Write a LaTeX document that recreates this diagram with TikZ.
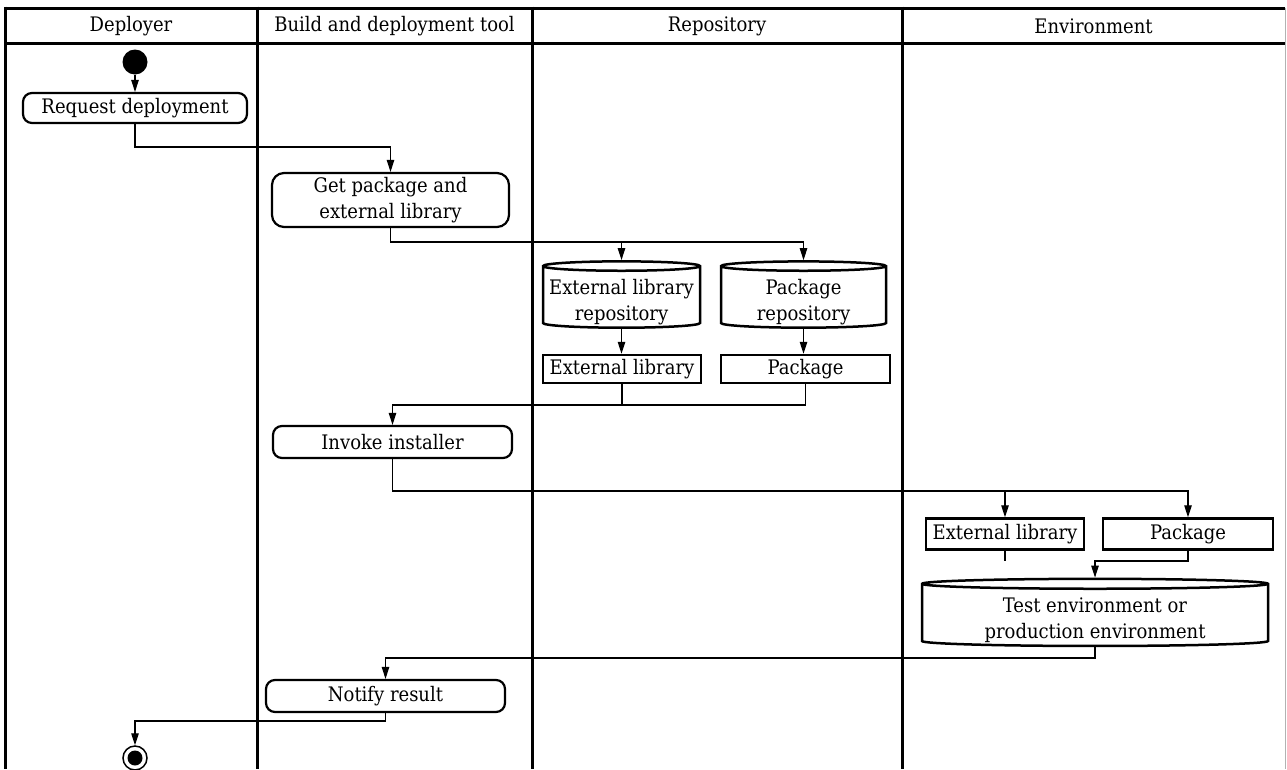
\documentclass[tikz,border=0pt]{standalone}
\usepackage{fontspec}
\setmainfont{DejaVu Serif Condensed}
\usepackage{tikz}
\usetikzlibrary{shapes.geometric,arrows.meta}
\newcommand{\cyltext}[1]{\raisebox{-5pt}[\height][\depth]{\begin{tabular}{@{}c@{}}#1\end{tabular}}}

\begin{document}
\begin{tikzpicture}[x=1pt,y=-1pt,
		every node/.style={font=\fontsize{20}{25.5}\selectfont, inner sep=0pt, align=center},
		lane/.style={line width=3pt},
		action/.style={draw, rounded corners=9pt, line width=2.2pt, minimum height=32pt},
		object/.style={draw, rectangle, line width=2.5pt, minimum height=31pt},
		store/.style={draw, cylinder, shape border rotate=90, aspect=0.1, line width=2.5pt, minimum height=65pt},
		flow/.style={line width=1.1pt, -{Triangle[length=12pt,width=7.5pt]}},
		link/.style={line width=1.1pt}]
		\useasboundingbox (0,0) rectangle (1287,769);
		\fill[white] (0,0) rectangle (1287,769);
		
		\draw[lane] (5,8) -- (1285,8);
		\draw[lane] (5,43) -- (1285,43);
		\draw[lane] (5,6.5) -- (5,769);
		\draw[lane] (257,6.5) -- (257,769);
		\draw[lane] (532,6.5) -- (532,769);
		\draw[lane] (902,6.5) -- (902,769);
		\draw[gray!60, line width=1pt] (1285,8) -- (1285,769);
		
		\node (hDep) at (131,26) {Deployer};
		\node (hTool) at (394.5,26) {Build and deployment tool};
		\node (hRepo) at (717,26) {Repository};
		\node (hEnv) at (1093.5,26) {Environment};
		
		\node[circle, fill, minimum size=25pt] (start) at (135,62) {};
		\node[action, minimum width=224pt, minimum height=30pt] (req) at (135,108) {Request deployment};
		\node[action, rounded corners=12pt, minimum width=237pt, minimum height=54pt] (get) at (390.5,200) {Get package and\\external library};
		\node[store, aspect=0.065, minimum width=157pt] (cyl1) at (621.5,297.5) {\cyltext{External library\\repository}};
		\node[store, minimum width=165pt] (cyl2) at (803.5,297.5) {\cyltext{Package\\repository}};
		\node[object, minimum width=158pt, minimum height=28pt] (el1) at (622,369) {External library};
		\node[object, minimum width=169pt, minimum height=28pt] (pk1) at (805.5,369) {Package};
		\node[action, minimum width=239pt] (inv) at (392.5,442) {Invoke installer};
		\node[object, minimum width=158pt] (el2) at (1005,534) {External library};
		\node[object, minimum width=170pt] (pk2) at (1188,534) {Package};
		\node[store, aspect=0.045, minimum width=346pt] (test) at (1095,615.5) {\cyltext{Test environment or\\production environment}};
		\node[action, minimum width=239pt] (notify) at (385.5,696) {Notify result};
		\node[circle, draw, line width=1.5pt, minimum size=24pt,
			path picture={\fill (path picture bounding box.center) circle (7.5pt);}] (stop) at (135,758) {};
		
		\draw[flow] (start) -- (req);
		\draw[flow] (req.south) -- (req.south |- 0,147) -| (get.north);
		\draw[flow] (get.south) -- (get.south |- 0,242) -| (cyl1.north);
		\draw[flow] (get.south |- 0,242) -| (cyl2.north);
		\draw[flow] (cyl1.south) -- (cyl1.south |- el1.north);
		\draw[flow] (cyl2.south) -- (cyl2.south |- pk1.north);
		\draw[link] (el1.south) -- (el1.south |- 0,405);
		\draw[flow] (pk1.south) |- (inv.north |- 0,405) -- (inv.north);
		\draw[flow] (inv.south) -- (inv.south |- 0,491) -| (el2.north);
		\draw[flow] (inv.south |- 0,491) -| (pk2.north);
		\draw[link] (el2.south) -- (el2.south |- 0,561);
		\draw[flow] (pk2.south) |- (test.north |- 0,561) -- (test.north);
		\draw[flow] (test.south) -- (test.south |- 0,658) -| (notify.north);
		\draw[flow] (notify.south) -- (notify.south |- 0,721) -| (stop.north);
	\end{tikzpicture}
\end{document}
